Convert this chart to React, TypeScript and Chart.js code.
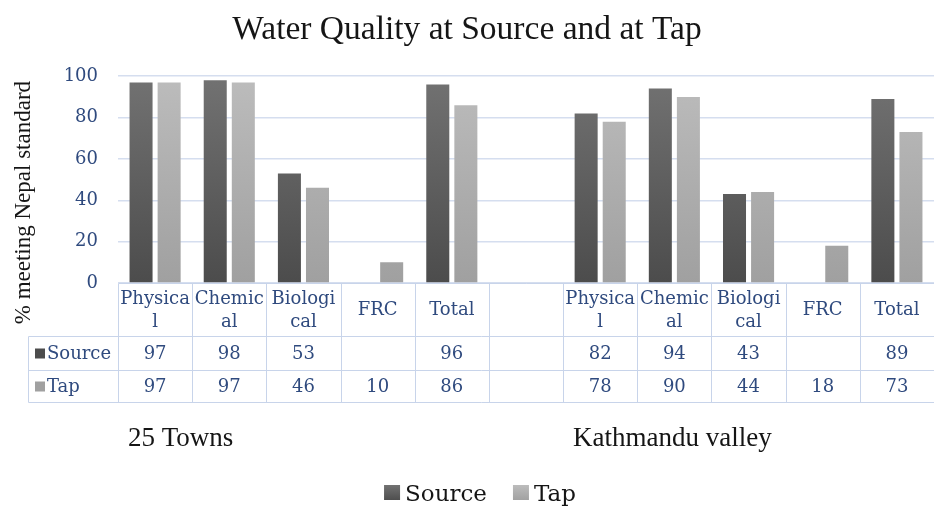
import React, { useEffect, useRef } from "react";
import { Chart, registerables } from "chart.js";

Chart.register(...registerables);

// ---- data ----
const chartTitle = "Water Quality at Source and at Tap";
const yAxisTitle = "% meeting Nepal standard";
const categoryLines: string[][] = [
  ["Physica", "l"],
  ["Chemic", "al"],
  ["Biologi", "cal"],
  ["FRC"],
  ["Total"],
  [""],
  ["Physica", "l"],
  ["Chemic", "al"],
  ["Biologi", "cal"],
  ["FRC"],
  ["Total"],
];
const sourceValues: (number | null)[] = [97, 98, 53, null, 96, null, 82, 94, 43, null, 89];
const tapValues: (number | null)[] = [97, 97, 46, 10, 86, null, 78, 90, 44, 18, 73];
const seriesNames = ["Source", "Tap"];
const groupNames = ["25 Towns", "Kathmandu valley"];
const groupStarts = [0, 6];
const yMin = 0;
const yMax = 100;
const yStep = 20;

// ---- styles ----
const SRC_TOP = "#727272";
const SRC_BOT = "#4c4c4c";
const TAP_TOP = "#bcbcbc";
const TAP_BOT = "#a0a0a0";
const BLUE_TEXT = "#2f4a7e";
const GRID = "#d5deef";
const TABLE_LINE = "#c8d4ea";

const gradient = (c0: string, c1: string) => (ctx: any) => {
  const chart = ctx.chart;
  const a = chart.chartArea;
  if (!a) return c1;
  const g = chart.ctx.createLinearGradient(0, a.top, 0, a.bottom);
  g.addColorStop(0, c0);
  g.addColorStop(1, c1);
  return g;
};

const extrasPlugin = {
  id: "extras",
  afterDraw(chart: any) {
    const ctx = chart.ctx as CanvasRenderingContext2D;
    const area = chart.chartArea;
    const xs = chart.scales.x;
    const n = chart.data.labels.length;
    const colW = (area.right - area.left) / n;
    const top = Math.round(area.bottom) + 0.5;
    const r1 = top + 53;
    const r2 = r1 + 34;
    const r3 = r2 + 32;
    const left = 28.5;
    ctx.save();

    // y axis title
    ctx.fillStyle = "#151515";
    ctx.font = "23px 'Liberation Serif'";
    ctx.textAlign = "center";
    ctx.textBaseline = "middle";
    ctx.save();
    ctx.translate(24, (area.top + area.bottom) / 2 + 23);
    ctx.rotate(-Math.PI / 2);
    ctx.fillText(yAxisTitle, 0, 0);
    ctx.restore();

    // table lines
    ctx.strokeStyle = TABLE_LINE;
    ctx.lineWidth = 1;
    const line = (x1: number, y1: number, x2: number, y2: number) => {
      ctx.beginPath();
      ctx.moveTo(x1, y1);
      ctx.lineTo(x2, y2);
      ctx.stroke();
    };
    const right = area.right;
    line(Math.round(area.left) + 0.5, top, right, top);
    line(left, r1, right, r1);
    line(left, r2, right, r2);
    line(left, r3, right, r3);
    line(left, r1, left, r3);
    for (let i = 0; i <= n; i++) {
      const xb = Math.round(area.left + i * colW) + 0.5;
      line(xb, top, xb, r3);
    }

    // header and values
    ctx.fillStyle = BLUE_TEXT;
    ctx.font = "18px 'DejaVu Serif'";
    ctx.textAlign = "center";
    ctx.textBaseline = "middle";
    const labels = chart.data.labels as string[][];
    labels.forEach((lines, i) => {
      const cx = xs.getPixelForValue(i);
      if (lines.length === 2) {
        ctx.fillText(lines[0], cx, top + 16);
        ctx.fillText(lines[1], cx, top + 39);
      } else {
        ctx.fillText(lines[0], cx, top + 27);
      }
    });
    const rowsY = [(r1 + r2) / 2, (r2 + r3) / 2];
    const rowColors = [SRC_BOT, TAP_BOT];
    chart.data.datasets.forEach((ds: any, di: number) => {
      const y = rowsY[di];
      ds.data.forEach((v: number | null, i: number) => {
        if (v === null || v === undefined) return;
        ctx.fillText(String(v), xs.getPixelForValue(i), y + 1);
      });
      ctx.fillStyle = rowColors[di];
      ctx.fillRect(35, y - 5, 10, 10);
      ctx.fillStyle = BLUE_TEXT;
      ctx.textAlign = "left";
      ctx.fillText(ds.label, 47, y + 1);
      ctx.textAlign = "center";
    });

    // group labels
    ctx.fillStyle = "#151515";
    ctx.font = "27px 'Liberation Serif'";
    ctx.textAlign = "left";
    ctx.textBaseline = "alphabetic";
    groupNames.forEach((g, gi) => {
      const x0 = xs.getPixelForValue(groupStarts[gi]) - colW / 2 + 10;
      ctx.fillText(g, x0, r3 + 43);
    });

    // legend
    ctx.font = "23px 'DejaVu Serif'";
    const sq = 16;
    const gap = 5;
    const spacing = 26;
    const w0 = ctx.measureText(seriesNames[0]).width;
    const w1 = ctx.measureText(seriesNames[1]).width;
    const total = sq + gap + w0 + spacing + sq + gap + w1;
    let lx = chart.width / 2 + 13 - total / 2;
    const ly = chart.height - 5;
    const legCols = [
      [SRC_TOP, SRC_BOT],
      [TAP_TOP, TAP_BOT],
    ];
    [w0, w1].forEach((w, i) => {
      const g = ctx.createLinearGradient(0, ly - 16, 0, ly);
      g.addColorStop(0, legCols[i][0]);
      g.addColorStop(1, legCols[i][1]);
      ctx.fillStyle = g;
      ctx.fillRect(lx, ly - 16, sq, 15);
      lx += sq + gap;
      ctx.fillStyle = "#151515";
      ctx.fillText(seriesNames[i], lx, ly);
      lx += w + spacing;
    });

    ctx.restore();
  },
};

export default function App() {
  const ref = useRef<HTMLCanvasElement>(null);
  useEffect(() => {
    document.body.style.margin = "0";
    document.body.style.background = "#ffffff";
    const canvas = ref.current;
    if (!canvas) return;
    const chart = new Chart(canvas, {
      type: "bar",
      data: {
        labels: categoryLines as any,
        datasets: [
          {
            label: seriesNames[0],
            data: sourceValues,
            backgroundColor: gradient(SRC_TOP, SRC_BOT),
            categoryPercentage: 0.757,
            barPercentage: 0.82,
          },
          {
            label: seriesNames[1],
            data: tapValues,
            backgroundColor: gradient(TAP_TOP, TAP_BOT),
            categoryPercentage: 0.757,
            barPercentage: 0.82,
          },
        ],
      },
      options: {
        responsive: false,
        animation: false,
        layout: { padding: { left: 0, right: 0, top: 0, bottom: 223 } },
        plugins: {
          legend: { display: false },
          tooltip: { enabled: false },
          title: {
            display: true,
            text: chartTitle,
            color: "#151515",
            font: { family: "'Liberation Serif'", size: 33.5, weight: "normal" },
            padding: { top: 10, bottom: 26 },
          },
        },
        scales: {
          x: {
            display: false,
            grid: { display: false },
          },
          y: {
            min: yMin,
            max: yMax,
            border: { display: false },
            grid: { color: GRID, drawTicks: false, lineWidth: 1.5 },
            ticks: {
              stepSize: yStep,
              color: BLUE_TEXT,
              padding: 20,
              font: { family: "'DejaVu Serif'", size: 18 },
            },
            afterFit: (scale: any) => {
              scale.width = 118;
            },
          },
        },
      },
      plugins: [extrasPlugin],
    });
    return () => chart.destroy();
  }, []);
  return (
    <div style={{ width: 934, height: 506, overflow: "hidden" }}>
      <canvas ref={ref} width={934} height={506} style={{ display: "block" }} />
    </div>
  );
}
